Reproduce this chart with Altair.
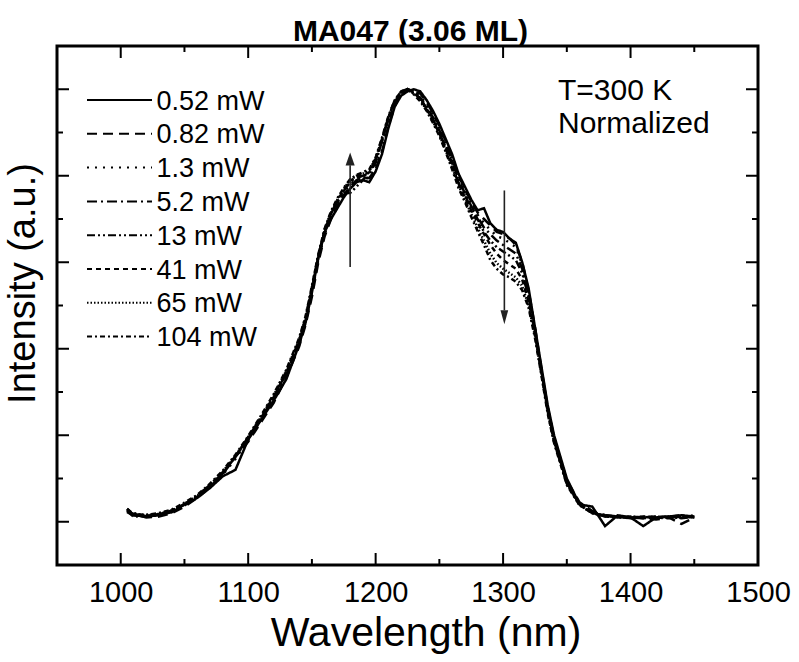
import altair as alt
import pandas as pd

FONT = "Liberation Sans, Arial, sans-serif"

# ---------------- data ----------------
wavelength = [1005, 1010, 1020, 1030, 1040, 1050, 1060, 1070, 1080, 1090, 1100, 1110, 1120, 1130,
              1140, 1145, 1150, 1155, 1160, 1165, 1170, 1175, 1180, 1185, 1190, 1195, 1200, 1205,
              1210, 1215, 1220, 1225, 1230, 1235, 1240, 1245, 1250, 1255, 1260, 1265, 1270, 1275,
              1280, 1285, 1290, 1295, 1300, 1305, 1310, 1315, 1320, 1325, 1330, 1335, 1340,
              1350, 1360, 1370, 1380, 1390, 1400, 1410, 1420, 1430, 1440, 1450]

p_052 = [0.030, 0.015, 0.012, 0.015, 0.022, 0.040, 0.055, 0.078, 0.105, 0.120, 0.190, 0.235, 0.280, 0.330,
         0.410, 0.460, 0.530, 0.610, 0.670, 0.700, 0.725, 0.750, 0.770, 0.785, 0.790, 0.785, 0.810, 0.850,
         0.910, 0.960, 0.985, 0.995, 1.000, 0.995, 0.975, 0.950, 0.920, 0.885, 0.850, 0.805, 0.775, 0.745,
         0.720, 0.725, 0.690, 0.675, 0.670, 0.655, 0.645, 0.600, 0.540, 0.450, 0.360, 0.270, 0.200,
         0.100, 0.040, 0.035, -0.010, 0.015, 0.010, -0.010, 0.010, 0.012, 0.015, 0.012]
p_082 = [0.025, 0.018, 0.010, 0.012, 0.020, 0.035, 0.055, 0.080, 0.110, 0.150, 0.185, 0.230, 0.275, 0.335,
         0.405, 0.455, 0.520, 0.600, 0.660, 0.700, 0.730, 0.755, 0.775, 0.790, 0.795, 0.795, 0.815, 0.855,
         0.915, 0.960, 0.990, 1.000, 0.995, 0.990, 0.970, 0.945, 0.915, 0.880, 0.845, 0.800, 0.770, 0.740,
         0.715, 0.700, 0.685, 0.670, 0.665, 0.655, 0.640, 0.600, 0.535, 0.450, 0.355, 0.265, 0.195,
         0.095, 0.045, 0.025, 0.015, 0.012, 0.010, 0.008, 0.005, 0.010, -0.005, 0.010]
p_13 = [0.028, 0.020, 0.015, 0.018, 0.025, 0.040, 0.058, 0.080, 0.108, 0.145, 0.190, 0.235, 0.285, 0.340,
        0.410, 0.460, 0.530, 0.605, 0.665, 0.705, 0.735, 0.760, 0.780, 0.790, 0.795, 0.795, 0.820, 0.860,
        0.920, 0.965, 0.990, 1.000, 0.995, 0.985, 0.965, 0.940, 0.910, 0.875, 0.840, 0.795, 0.765, 0.735,
        0.710, 0.690, 0.675, 0.660, 0.655, 0.645, 0.635, 0.595, 0.530, 0.445, 0.350, 0.265, 0.195,
        0.095, 0.042, 0.022, 0.015, 0.010, 0.012, 0.010, 0.008, 0.012, 0.010, 0.015]
p_52 = [0.022, 0.015, 0.012, 0.016, 0.024, 0.038, 0.056, 0.082, 0.112, 0.150, 0.195, 0.240, 0.285, 0.345,
        0.415, 0.465, 0.535, 0.610, 0.670, 0.710, 0.740, 0.765, 0.785, 0.795, 0.800, 0.805, 0.830, 0.880,
        0.935, 0.975, 0.995, 1.000, 0.990, 0.980, 0.960, 0.935, 0.905, 0.870, 0.835, 0.790, 0.760, 0.730,
        0.705, 0.680, 0.665, 0.650, 0.640, 0.630, 0.620, 0.585, 0.525, 0.440, 0.350, 0.260, 0.190,
        0.090, 0.040, 0.020, 0.015, 0.012, 0.008, 0.010, 0.012, 0.010, 0.012, 0.010]
p_13b = [0.025, 0.012, 0.014, 0.017, 0.026, 0.040, 0.060, 0.085, 0.115, 0.152, 0.195, 0.240, 0.290, 0.345,
         0.420, 0.470, 0.540, 0.615, 0.675, 0.715, 0.740, 0.760, 0.760, 0.775, 0.790, 0.810, 0.840, 0.885,
         0.935, 0.970, 0.990, 1.000, 0.995, 0.980, 0.955, 0.930, 0.900, 0.865, 0.830, 0.785, 0.755, 0.725,
         0.700, 0.670, 0.650, 0.635, 0.625, 0.615, 0.605, 0.575, 0.520, 0.440, 0.350, 0.260, 0.190,
         0.090, 0.040, 0.022, 0.012, 0.010, 0.012, 0.008, 0.010, 0.012, 0.008, 0.012]
p_41 = [0.026, 0.018, 0.013, 0.018, 0.025, 0.040, 0.058, 0.083, 0.112, 0.150, 0.192, 0.238, 0.288, 0.345,
        0.418, 0.468, 0.538, 0.612, 0.672, 0.712, 0.742, 0.768, 0.788, 0.798, 0.802, 0.808, 0.835, 0.880,
        0.930, 0.970, 0.992, 1.000, 0.992, 0.978, 0.955, 0.928, 0.898, 0.862, 0.825, 0.782, 0.750, 0.720,
        0.692, 0.665, 0.640, 0.620, 0.605, 0.595, 0.585, 0.560, 0.510, 0.435, 0.345, 0.255, 0.185,
        0.088, 0.040, 0.020, 0.012, 0.012, 0.010, 0.012, 0.010, 0.008, 0.012, 0.010]
p_65 = [0.028, 0.016, 0.015, 0.018, 0.026, 0.042, 0.060, 0.085, 0.115, 0.152, 0.196, 0.242, 0.292, 0.350,
        0.422, 0.472, 0.542, 0.615, 0.675, 0.715, 0.745, 0.770, 0.790, 0.800, 0.805, 0.812, 0.840, 0.885,
        0.935, 0.972, 0.993, 1.000, 0.990, 0.975, 0.952, 0.925, 0.895, 0.858, 0.820, 0.778, 0.745, 0.712,
        0.680, 0.650, 0.620, 0.598, 0.585, 0.575, 0.565, 0.545, 0.500, 0.430, 0.345, 0.255, 0.185,
        0.088, 0.038, 0.020, 0.014, 0.010, 0.012, 0.010, 0.012, 0.010, 0.010, 0.012]
p_104 = [0.030, 0.018, 0.016, 0.020, 0.028, 0.044, 0.062, 0.088, 0.118, 0.155, 0.198, 0.245, 0.295, 0.352,
         0.425, 0.475, 0.545, 0.618, 0.678, 0.718, 0.748, 0.772, 0.792, 0.802, 0.808, 0.815, 0.842, 0.888,
         0.938, 0.975, 0.995, 1.000, 0.988, 0.972, 0.950, 0.922, 0.892, 0.855, 0.815, 0.772, 0.740, 0.705,
         0.672, 0.640, 0.605, 0.585, 0.572, 0.565, 0.555, 0.535, 0.495, 0.425, 0.340, 0.250, 0.182,
         0.085, 0.038, 0.020, 0.012, 0.012, 0.008, 0.012, 0.010, 0.012, 0.015, 0.010]

power_labels = ["0.52 mW", "0.82 mW", "1.3 mW", "5.2 mW", "13 mW", "41 mW", "65 mW", "104 mW"]
series = [p_052, p_082, p_13, p_52, p_13b, p_41, p_65, p_104]

x_major = [1000, 1100, 1200, 1300, 1400, 1500]
x_minor = [1050, 1150, 1250, 1350, 1450]
y_major = [0.0, 0.2, 0.4, 0.6, 0.8, 1.0]
y_minor = [0.1, 0.3, 0.5, 0.7, 0.9]

arrow_x = [1180, 1301]
arrow_tail = [0.589, 0.766]
arrow_base = [0.824, 0.489]
arrow_head = [0.8385, 0.4727]

title_text = "MA047 (3.06 ML)"
note_lines = ["T=300 K", "Normalized"]

# ---------------- styling ----------------
dashes = [[1, 0], [10, 6], [2, 6], [10, 4, 2, 4], [8, 3, 2, 3, 2, 3], [5, 4], [1.5, 2], [5, 3, 2, 3]]
W, H = 701, 519

rows = []
for lab, vals in zip(power_labels, series):
    for wl, v in zip(wavelength, vals):
        rows.append({"wavelength": wl, "intensity": v, "power": lab})
df = pd.DataFrame(rows)

xscale = alt.Scale(domain=[950, 1500], nice=False, zero=False)
yscale = alt.Scale(domain=[-0.1, 1.1], nice=False, zero=False)

x_axis = alt.Axis(values=x_major, format="d", labelFontSize=29, labelFont=FONT, labelColor="black",
                  ticks=False, tickSize=0, domain=False, grid=False, labelPadding=13,
                  labelFlush=False, labelOverlap=False,
                  title="Wavelength (nm)", titleFontSize=41, titleFont=FONT,
                  titleFontWeight="normal", titleColor="black",
                  titleBaseline="alphabetic", titleY=80, titleX=W / 2 + 18)
y_axis = alt.Axis(labels=False, ticks=False, domain=False, grid=False,
                  title="Intensity (a.u.)", titleFontSize=38, titleFont=FONT,
                  titleFontWeight="normal", titleColor="black",
                  titleBaseline="alphabetic", titleAngle=270,
                  titleX=-23, titleY=237, titleAlign="center")

lines = alt.Chart(df).mark_line(color="black", strokeWidth=2.5).encode(
    x=alt.X("wavelength:Q", scale=xscale, axis=x_axis),
    y=alt.Y("intensity:Q", scale=yscale, axis=y_axis),
    strokeDash=alt.StrokeDash("power:N", scale=alt.Scale(domain=power_labels, range=dashes), legend=None),
    order=alt.Order("wavelength:Q"),
)

def tick_layer(vals, axis, length):
    d = pd.DataFrame({"wavelength": vals, "intensity": vals})
    base = alt.Chart(d).mark_rule(color="black", strokeWidth=2)
    if axis == "x":
        bottom = base.encode(x=alt.X("wavelength:Q", scale=xscale, axis=x_axis),
                             y=alt.value(H), y2=alt.value(H - length))
        top = base.encode(x=alt.X("wavelength:Q", scale=xscale, axis=x_axis),
                          y=alt.value(0), y2=alt.value(length))
        return [bottom, top]
    left = base.encode(y=alt.Y("intensity:Q", scale=yscale, axis=y_axis),
                       x=alt.value(0), x2=alt.value(length))
    right = base.encode(y=alt.Y("intensity:Q", scale=yscale, axis=y_axis),
                        x=alt.value(W), x2=alt.value(W - length))
    return [left, right]

ticks = (tick_layer(x_major, "x", 12) + tick_layer(x_minor, "x", 6)
         + tick_layer(y_major, "y", 12) + tick_layer(y_minor, "y", 6))

arr = pd.DataFrame({"wavelength": arrow_x, "intensity": arrow_tail, "y2": arrow_base,
                    "yh": arrow_head, "dir": ["up", "down"]})
arrow_rules = alt.Chart(arr).mark_rule(color="#222222", strokeWidth=1.6).encode(
    x=alt.X("wavelength:Q", scale=xscale, axis=x_axis),
    y=alt.Y("intensity:Q", scale=yscale, axis=y_axis), y2="y2:Q")
head_up = alt.Chart(arr).transform_filter(alt.datum.dir == "up").transform_calculate(
    intensity="datum.yh").mark_point(
    shape="M0,-1L-0.7,1L0.7,1Z", size=169, filled=True, color="#222222", opacity=1).encode(
    x=alt.X("wavelength:Q", scale=xscale, axis=x_axis),
    y=alt.Y("intensity:Q", scale=yscale, axis=y_axis))
head_down = alt.Chart(arr).transform_filter(alt.datum.dir == "down").transform_calculate(
    intensity="datum.yh").mark_point(
    shape="M0,1L-0.55,-1L0.55,-1Z", size=196, filled=True, color="#222222", opacity=1).encode(
    x=alt.X("wavelength:Q", scale=xscale, axis=x_axis),
    y=alt.Y("intensity:Q", scale=yscale, axis=y_axis))

notes = []
for txt, yy in zip(note_lines, [54, 87]):
    notes.append(alt.Chart(pd.DataFrame({"t": [txt]})).mark_text(
        align="left", baseline="alphabetic", fontSize=30, font=FONT, color="black").encode(
        text="t:N", x=alt.value(501), y=alt.value(yy)))

title_layer = alt.Chart(pd.DataFrame({"t": [title_text]})).mark_text(
    align="center", baseline="alphabetic", fontSize=30, fontWeight="bold", font=FONT,
    color="black").encode(text="t:N", x=alt.value(W / 2 + 3), y=alt.value(-5))

legend_layers = []
for i, (lab, dsh) in enumerate(zip(power_labels, dashes)):
    ry = 54 + 33.8 * i
    legend_layers.append(alt.Chart(pd.DataFrame({"t": [lab]})).mark_rule(
        color="black", strokeWidth=2, strokeDash=dsh).encode(
        x=alt.value(30), x2=alt.value(95), y=alt.value(ry)))
    legend_layers.append(alt.Chart(pd.DataFrame({"t": [lab]})).mark_text(
        align="left", baseline="alphabetic", fontSize=27, font=FONT, color="black").encode(
        text="t:N", x=alt.value(99.5), y=alt.value(ry + 9.5)))

chart = alt.layer(lines, *ticks, arrow_rules, head_up, head_down, *notes, title_layer,
                  *legend_layers).properties(
    width=W, height=H,
    autosize=alt.AutoSizeParams(type="none"),
    padding={"left": 57, "top": 46, "right": 41, "bottom": 97},
    background="white",
).configure_view(stroke="black", strokeWidth=3)

chart.save("out.html", embed_options={"renderer": "svg", "actions": False})
